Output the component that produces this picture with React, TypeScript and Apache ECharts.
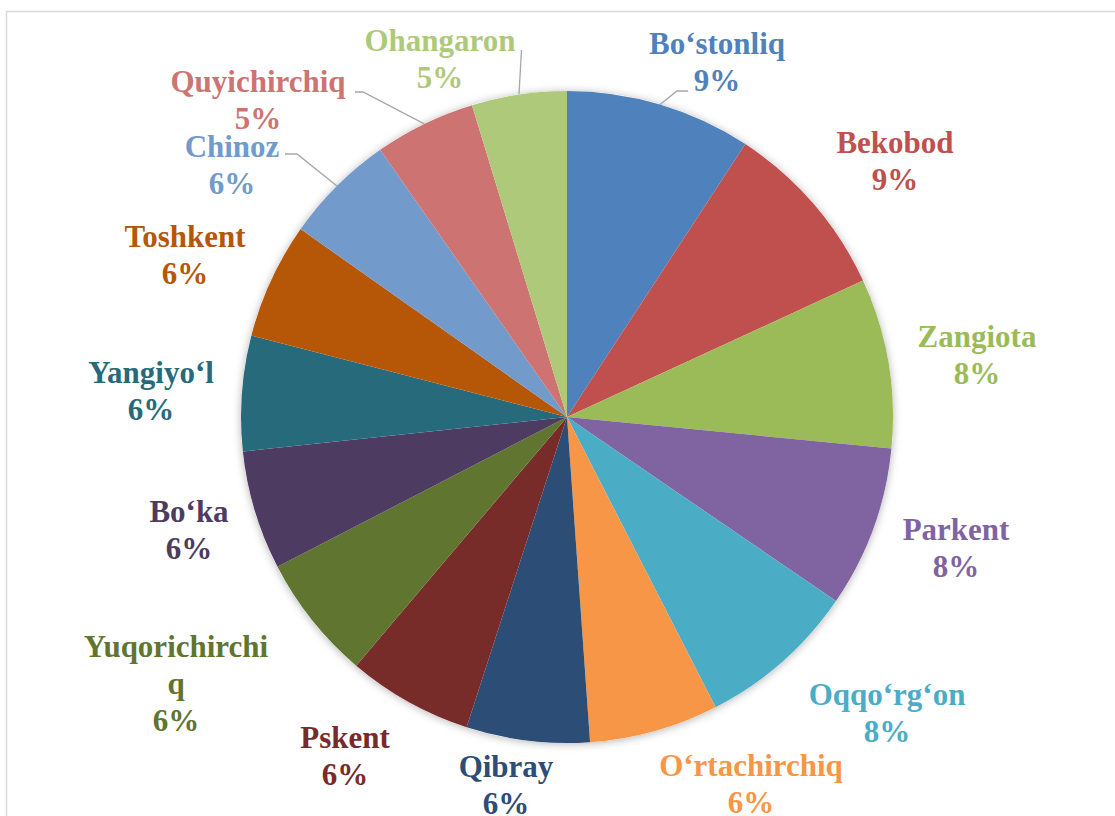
import React, { useEffect, useRef } from 'react';
import * as echarts from 'echarts';

// ---- data ----
const categories = [
  'Bo‘stonliq', 'Bekobod', 'Zangiota', 'Parkent', 'Oqqo‘rg‘on', 'O‘rtachirchiq', 'Qibray',
  'Pskent', 'Yuqorichirchiq', 'Bo‘ka', 'Yangiyo‘l', 'Toshkent', 'Chinoz', 'Quyichirchiq', 'Ohangaron',
];
const shares = [9.2, 8.9, 8.4, 8.0, 7.9, 6.4, 6.1, 6.2, 6.2, 5.9, 5.7, 5.75, 5.5, 5.0, 4.7];

// ---- styles / layout ----
const colors = [
  '#4F81BD', '#C0504D', '#9BBB59', '#8064A2', '#4BACC6', '#F79646', '#2C4D75',
  '#772C2A', '#5F7530', '#4D3B62', '#276A7C', '#B65708', '#729ACA', '#CD7371', '#AFC97A',
];
const CX = 567;
const CY = 417;
const R = 326;
// label block centre, relative to the pie centre
const labelOffsets: [number, number][] = [
  [150, -355], [328, -256], [410, -62.5], [389, 131], [320, 296], [184, 367], [-61, 368],
  [-222, 339], [-391, 266], [-378, 113], [-416, -26], [-382, -162], [-335, -252], [-309, -317], [-127, -358.5],
];
// leader line elbow / end, relative to the label centre
const leaders: Record<number, [number, number][]> = {
  0: [[-40, 29], [-29, 29]],
  12: [[65, -11], [53, -11]],
  13: [[105, -8], [97, -8]],
  14: [[81.5, -8.5], [81.5, -8.5]],
};

export default function App() {
  const ref = useRef<HTMLDivElement>(null);
  useEffect(() => {
    if (!ref.current) return;
    const chart = echarts.init(ref.current, undefined, { renderer: 'svg' });
    const total = shares.reduce((a, b) => a + b, 0);
    const midAngles: number[] = [];
    let acc = 0;
    shares.forEach((v) => {
      midAngles.push(((acc + v / 2) / total) * Math.PI * 2);
      acc += v;
    });
    const font = {
      fontFamily: '"Liberation Serif", "Times New Roman", serif',
      fontWeight: 'bold' as const,
      fontSize: 31,
      lineHeight: 37,
    };
    chart.setOption({
      animation: false,
      backgroundColor: '#ffffff',
      graphic: [
        {
          type: 'rect',
          silent: true,
          shape: { x: 6.5, y: 11.5, width: 1300, height: 1000 },
          style: { fill: 'none', stroke: '#D9D9D9', lineWidth: 1.5 },
        },
      ],
      series: [
        {
          type: 'pie',
          silent: true,
          center: [CX, CY],
          radius: R,
          z: 1,
          label: { show: false },
          labelLine: { show: false },
          itemStyle: {
            color: '#ffffff',
            shadowBlur: 8,
            shadowColor: 'rgba(0,0,0,0.3)',
            shadowOffsetX: 0,
            shadowOffsetY: 1,
          },
          data: [{ value: 1, name: '' }],
        },
        {
          type: 'pie',
          center: [CX, CY],
          radius: R,
          z: 2,
          startAngle: 90,
          clockwise: true,
          avoidLabelOverlap: false,
          percentPrecision: 0,
          itemStyle: { borderWidth: 0 },
          label: {
            show: true,
            position: 'outside',
            formatter: '{b}\n{d}%',
            width: 260,
            overflow: 'none',
            align: 'center',
            ...font,
          },
          labelLine: {
            show: false,
            lineStyle: { color: '#A6A6A6', width: 1.3 },
          },
          emphasis: { disabled: true },
          labelLayout: (p: any) => {
            const i = p.dataIndex;
            const [dx, dy] = labelOffsets[i];
            const lx = CX + dx;
            const ly = CY + dy;
            const res: any = { x: lx, y: ly, align: 'center', verticalAlign: 'middle' };
            const pts = leaders[i];
            if (pts) {
              const a = midAngles[i];
              const start = [CX + R * Math.sin(a), CY - R * Math.cos(a)];
              res.labelLinePoints = [start, ...pts.map(([u, v]) => [lx + u, ly + v])];
            }
            return res;
          },
          data: categories.map((name, i) => {
            const item: any = {
              name,
              value: shares[i],
              itemStyle: { color: colors[i] },
              label: { color: colors[i] },
            };
            if (name === 'Yuqorichirchiq') {
              item.label = { color: colors[i], width: 196, overflow: 'breakAll' };
            }
            if (leaders[i]) item.labelLine = { show: true };
            return item;
          }),
        },
      ],
    });
    return () => chart.dispose();
  }, []);
  return (
    <div
      ref={ref}
      style={{ position: 'fixed', left: 0, top: 0, width: 1115, height: 816, background: '#fff' }}
    />
  );
}
